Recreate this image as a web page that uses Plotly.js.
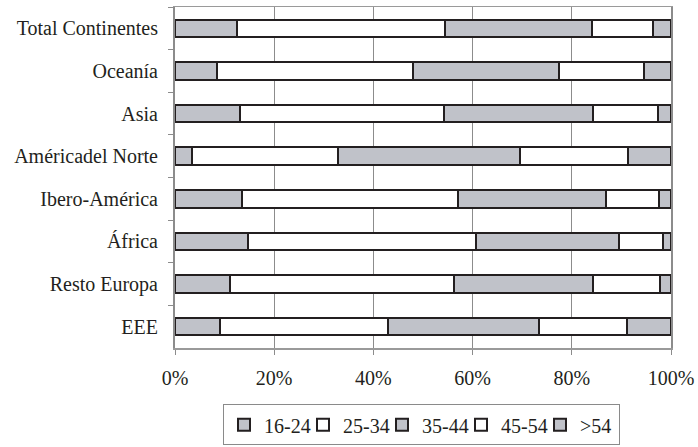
<!DOCTYPE html>
<html>
<head>
<meta charset="utf-8">
<script src="https://cdn.plot.ly/plotly-3.0.1.min.js"></script>
<style>html,body{margin:0;padding:0;background:#fff;}#chart{width:698px;height:447px;}</style>
</head>
<body>
<div id="chart"></div>
<script>
const categories = ["Total Continentes", "Oceanía", "Asia", "Américadel Norte", "Ibero-América", "África", "Resto Europa", "EEE"];
const seriesNames = ["16-24", "25-34", "35-44", "45-54", ">54"];
const s16_24 = [12.5, 8.4, 13.1, 3.4, 13.6, 14.7, 11.0, 9.0];
const s25_34 = [42.0, 39.6, 41.1, 29.5, 43.5, 46.0, 45.2, 33.9];
const s35_44 = [29.5, 29.5, 30.0, 36.7, 29.7, 28.8, 28.1, 30.5];
const s45_54 = [12.3, 17.1, 13.1, 21.8, 10.8, 8.8, 13.5, 17.7];
const s55 = [3.7, 5.4, 2.7, 8.6, 2.4, 1.7, 2.2, 8.9];
const xTickVals = [0, 20, 40, 60, 80, 100];
const xTickText = ["0%", "20%", "40%", "60%", "80%", "100%"];

const seriesValues = [s16_24, s25_34, s35_44, s45_54, s55];
const fills = ["#c0c2c9", "#ffffff", "#c0c2c9", "#ffffff", "#c0c2c9"];
const fam = "Liberation Serif";
const font = {family: fam, size: 20, color: "#231f20"};

const traces = seriesValues.map((vals, i) => ({
  type: "bar",
  orientation: "h",
  name: seriesNames[i],
  y: categories,
  x: vals,
  marker: {color: fills[i], line: {color: "#231f20", width: 2}},
  hoverinfo: "x+y+name"
}));

const layout = {
  width: 698, height: 447,
  margin: {l: 175, r: 27, t: 7, b: 99},
  barmode: "stack",
  bargap: 0.59,
  paper_bgcolor: "#fff",
  plot_bgcolor: "#fff",
  font: font,
  showlegend: true,
  legend: {
    orientation: "h",
    xref: "paper", x: 0.497, xanchor: "center",
    yref: "container", y: 0.004, yanchor: "bottom",
    bordercolor: "#8a8a8a", borderwidth: 1,
    font: font,
    entrywidth: 34, entrywidthmode: "pixels",
    itemwidth: 30,
    tracegroupgap: 0,
    traceorder: "normal"
  },
  xaxis: {
    range: [0, 100],
    tickvals: xTickVals,
    ticktext: xTickText,
    tickfont: font,
    showgrid: true, gridcolor: "#8c8c8c", gridwidth: 1,
    showline: true, linecolor: "#9a9a9a", linewidth: 1.5, mirror: true,
    ticks: "outside", ticklen: 5, tickcolor: "#8c8c8c",
    ticklabelstandoff: 6,
    zeroline: false,
    fixedrange: true
  },
  yaxis: {
    type: "category",
    autorange: "reversed",
    tickson: "boundaries",
    tickfont: font,
    ticks: "outside", ticklen: 5, tickcolor: "#8c8c8c",
    showline: true, linecolor: "#8c8c8c", linewidth: 2, mirror: true,
    showgrid: false,
    ticklabelstandoff: 11,
    fixedrange: true
  }
};

Plotly.newPlot("chart", traces, layout, {displayModeBar: false, staticPlot: true});
</script>
</body>
</html>
